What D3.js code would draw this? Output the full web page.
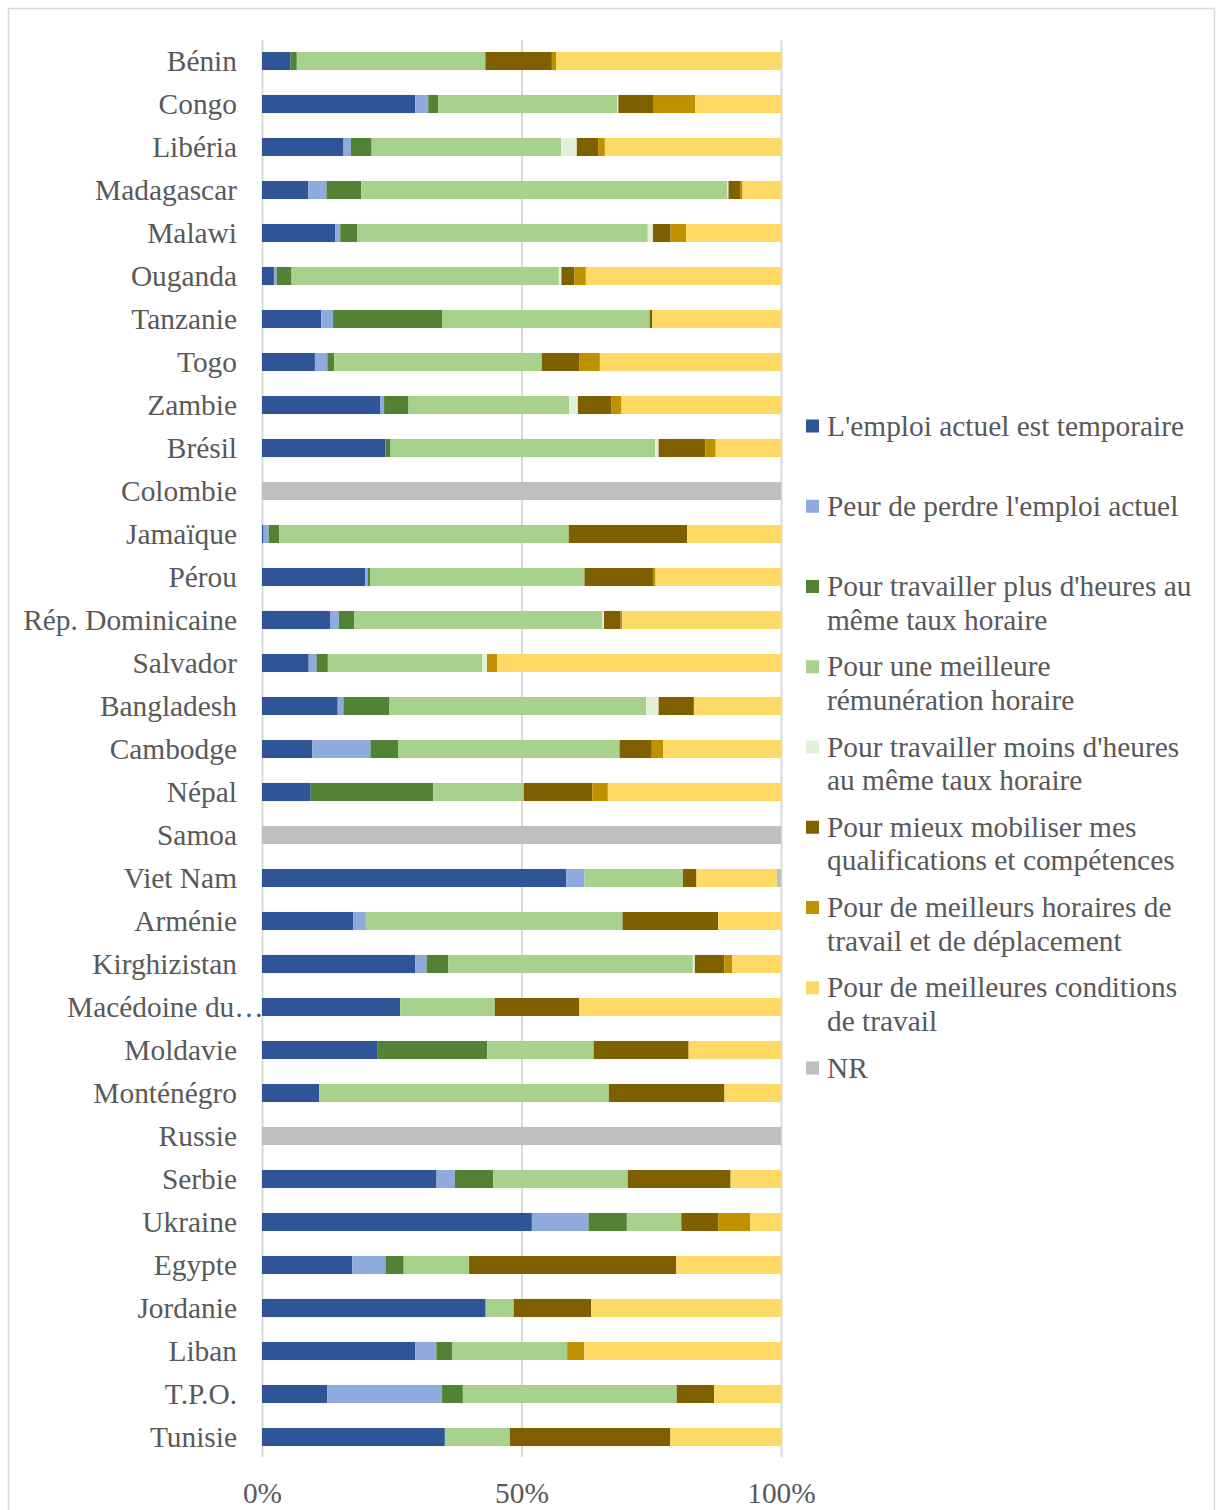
<!DOCTYPE html>
<html><head><meta charset="utf-8">
<script src="https://cdn.jsdelivr.net/npm/d3@7"></script>
<style>
body{margin:0;background:#fff;}
svg text{font-family:"Liberation Serif","Times New Roman",serif;fill:#595959;}
</style></head>
<body><svg id="c" width="1217" height="1510"></svg>
<script>
const categories = ["Bénin","Congo","Libéria","Madagascar","Malawi","Ouganda","Tanzanie","Togo","Zambie","Brésil","Colombie","Jamaïque","Pérou","Rép. Dominicaine","Salvador","Bangladesh","Cambodge","Népal","Samoa","Viet Nam","Arménie","Kirghizistan","Macédoine du…","Moldavie","Monténégro","Russie","Serbie","Ukraine","Egypte","Jordanie","Liban","T.P.O.","Tunisie"];

const seriesNames = ["L'emploi actuel est temporaire","Peur de perdre l'emploi actuel","Pour travailler plus d'heures au|même taux horaire","Pour une meilleure|rémunération horaire","Pour travailler moins d'heures|au même taux horaire","Pour mieux mobiliser mes|qualifications et compétences","Pour de meilleurs horaires de|travail et de déplacement","Pour de meilleures conditions|de travail","NR"];
const seriesColors = ["#2F5597","#8FAADC","#548235","#A9D18E","#E2F0D9","#7F6000","#BF9000","#FFD966","#BFBFBF"];

const temporaire     = [5.5,29.5,15.7,8.9,14.1,2.3,11.4,10.2,22.8,23.8,0,0.3,19.9,13.2,9.0,14.6,9.7,9.4,0,58.7,17.6,29.5,26.6,22.3,11.0,0,33.6,52.0,17.4,43.1,29.5,12.6,35.2];
const peur           = [0,2.5,1.4,3.5,1.0,0.5,2.3,2.4,0.7,0,0,1.0,0.5,1.6,1.5,1.1,11.2,0,0,3.5,2.4,2.2,0,0,0,0,3.5,10.9,6.4,0,4.1,22.1,0];
const plusHeures     = [1.2,1.9,4.0,6.7,3.3,2.9,21.0,1.3,4.7,1.0,0,2.0,0.5,3.0,2.2,8.9,5.4,23.6,0,0,0,4.2,0,21.1,0,0,7.4,7.4,3.5,0,3.0,4.0,0];
const remuneration   = [36.3,34.5,36.5,70.4,56.0,51.5,40.0,40.0,30.9,51.0,0,55.8,41.3,47.8,29.8,49.5,42.6,17.5,0,19.0,49.4,47.1,18.2,20.5,55.9,0,25.9,10.5,12.6,5.4,22.2,41.2,12.5];
const moinsHeures    = [0,0.2,3.0,0.3,1.0,0.5,0,0,1.7,0.7,0,0,0,0.3,0.9,2.4,0,0,0,0,0,0.4,0,0,0,0,0,0,0,0,0,0,0];
const qualifications = [12.8,6.8,4.1,2.2,3.4,2.5,0.5,7.2,6.4,9.0,0,22.8,13.2,3.2,0,6.8,6.2,13.2,0,2.6,18.4,5.7,16.3,18.3,22.3,0,19.8,7.1,39.9,14.9,0,7.2,30.9];
const horaires       = [0.8,8.0,1.3,0.5,3.0,2.2,0,4.0,2.0,2.0,0,0,0.5,0.3,2.0,0,2.2,3.0,0,0,0,1.5,0,0,0,0,0,6.2,0,0,3.3,0,0];
const conditions     = [43.3,16.5,33.9,7.4,18.3,37.6,24.8,34.9,30.7,12.6,0,18.1,24.2,30.6,54.7,16.8,22.7,33.4,0,15.5,12.1,9.4,38.8,17.8,10.9,0,9.7,5.9,20.2,36.6,37.9,12.9,21.3];
const nr             = [0,0,0,0,0,0,0,0,0,0,100,0,0,0,0,0,0,0,100,0.8,0,0,0,0,0,100,0,0,0,0,0,0,0];

const tickValues = [0, 0.5, 1];
const tickLabels = ["0%","50%","100%"];

const seriesData = [temporaire,peur,plusHeures,remuneration,moinsHeures,qualifications,horaires,conditions,nr];
const keys = seriesData.map((_, i) => "s" + i);
const rows = categories.map((c, j) => {
  const r = {cat: c};
  seriesData.forEach((arr, i) => r["s" + i] = arr[j]);
  return r;
});

const svg = d3.select("#c");
// outer frame
svg.append("rect").attr("x", 8.5).attr("y", 8.5).attr("width", 1206).attr("height", 1520)
  .attr("fill", "none").attr("stroke", "#D9D9D9").attr("stroke-width", 1.5);

const x = d3.scaleLinear().domain([0, 1]).range([262, 781]);
const y = d3.scaleBand().domain(categories).range([39.5, 1458.5]).paddingInner(0.58).paddingOuter(0.29);

// gridlines
svg.append("g").attr("transform", "translate(0,40)")
  .call(d3.axisBottom(x).tickValues(tickValues).tickSize(1417).tickFormat(""))
  .call(g => g.select(".domain").remove())
  .call(g => g.selectAll("line").attr("stroke", "#D9D9D9").attr("stroke-width", 2));

const stack = d3.stack().keys(keys).offset(d3.stackOffsetExpand);
const stacked = stack(rows);

svg.append("g").selectAll("g").data(stacked).join("g")
  .attr("fill", (d, i) => seriesColors[i])
  .selectAll("rect").data(d => d).join("rect")
  .attr("x", d => x(d[0]))
  .attr("width", d => Math.max(0, x(d[1]) - x(d[0])))
  .attr("y", d => y(d.data.cat))
  .attr("height", y.bandwidth());

// category labels
const fs = 29.4;
svg.append("g").selectAll("text").data(categories).join("text")
  .attr("x", d => d.endsWith("…") ? 67 : 237)
  .attr("text-anchor", d => d.endsWith("…") ? "start" : "end")
  .attr("y", d => y(d) + y.bandwidth() / 2 + fs * 0.33)
  .attr("font-size", fs)
  .text(d => d);

// x axis labels
svg.append("g").attr("transform", "translate(0,1503)")
  .call(d3.axisBottom(x).tickValues(tickValues).tickSize(0).tickPadding(0).tickFormat((d, i) => tickLabels[i]))
  .call(g => g.select(".domain").remove())
  .call(g => g.selectAll("text").attr("font-size", fs).attr("dy", 0).attr("fill", "#595959")
     .attr("font-family", '"Liberation Serif","Times New Roman",serif'));

// legend
const legend = svg.append("g");
const ly0 = 426, lstep = 80.25, lineH = 33.5;
seriesNames.forEach((name, i) => {
  const cy = ly0 + i * lstep;
  legend.append("rect").attr("x", 806).attr("y", cy - 6.5).attr("width", 13).attr("height", 13).attr("fill", seriesColors[i]);
  const t = legend.append("text").attr("x", 827).attr("y", cy + fs * 0.33).attr("font-size", fs);
  name.split("|").forEach((ln, k) => {
    t.append("tspan").attr("x", 827).attr("dy", k === 0 ? 0 : lineH).text(ln);
  });
});
</script></body></html>
